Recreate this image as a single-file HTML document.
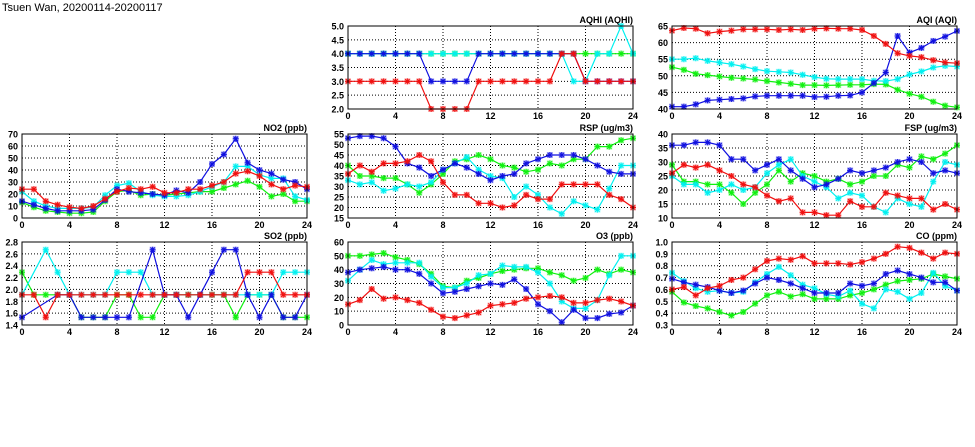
<!DOCTYPE html>
<html><head><meta charset="utf-8"><style>
html,body{margin:0;padding:0;background:#fff;width:975px;height:447px;overflow:hidden}
svg{display:block}
</style></head><body>
<svg id="s" width="975" height="447" xmlns="http://www.w3.org/2000/svg" font-family="Liberation Sans, sans-serif">
<text x="2" y="11" font-size="11" fill="#000">Tsuen Wan, 20200114-20200117</text>
</svg>
<script>
var C={b:'#1010e0',c:'#00f0f0',g:'#10f010',r:'#f01010'};
var P=[
{t:'AQHI (AQHI)',x:348,y:26,h:83,min:2,max:5,st:0.5,d:1,s:{
g:[4,4,4,4,4,4,4,4,4,4,4,4,4,4,4,4,4,4,4,4,4,4,4,4,4],
c:[4,4,4,4,4,4,4,4,4,4,4,4,4,4,4,4,4,4,4,3,3,4,4,5,4],
b:[4,4,4,4,4,4,4,3,3,3,3,4,4,4,4,4,4,4,4,4,3,3,3,3,3],
r:[3,3,3,3,3,3,3,2,2,2,2,3,3,3,3,3,3,3,4,4,3,3,3,3,3]}},
{t:'AQI (AQI)',x:672,y:26,h:83,min:40,max:65,st:5,d:0,s:{
g:[52.6,51.8,50.6,50.2,49.8,49.4,49.2,48.9,48.4,48,47.6,47.2,47.2,47.1,47.2,47.3,47.3,47.5,47.4,45.8,44.6,43.7,42.2,41,40.5],
c:[55,55,55.3,54.5,54,53.5,52.8,52,51.4,51.2,51,50.3,49.6,49.1,49,49,49,48.5,48.4,49,50.4,51.3,52.5,53,52.8],
b:[40.7,40.7,41.4,42.6,42.8,43,43.2,43.8,44,44,44,44,43.6,43.7,44,44.1,45,47.8,51,62,57,58.4,60.5,61.8,63.5],
r:[63.6,64.4,64.2,62.8,63.3,63.6,64,64,64,63.8,64,63.8,64.2,64.3,64.2,64.2,63.8,62,59.6,56.8,56,55.6,54.7,54,53.8]}},
{t:'NO2 (ppb)',x:22,y:134,h:84,min:0,max:70,st:10,d:0,s:{
g:[13,9,6,5,4,4,5,14,22,23,19,20,19,20,21,22,22,25,28,31,26,18,20,14,14],
c:[22,14,10,8,8,8,9,19,27,29,22,19,18,18,19,22,26,30,43,43,36,33,33,18,15],
b:[14,11,8,6,6,6,7,15,24,22,21,20,19,23,21,30,45,53,66,46,40,37,32,30,24],
r:[24,24,14,11,9,8,10,16,22,25,24,26,21,21,24,24,27,30,37,39,35,28,24,27,26]}},
{t:'RSP (ug/m3)',x:348,y:134,h:84,min:15,max:55,st:5,d:0,s:{
g:[40,35,35,34,34,31,27,31,36,42,43,45,43,40,39,37,38,41,40,43,43,49,49,52,53],
c:[33,31,32,28,29,31,30,32,38,41,44,38,35,34,25,30,26,20,17,23,21,19,29,40,40],
b:[53,54,54,53,49,41,39,35,38,41,39,36,33,35,36,41,43,45,45,45,43,40,37,36,36],
r:[36,40,37,41,41,42,45,42,32,26,26,22,22,20,21,26,24,24,31,31,31,31,26,24,20]}},
{t:'FSP (ug/m3)',x:672,y:134,h:84,min:10,max:40,st:5,d:0,s:{
g:[29,23,23,22,22,19,15,19,22,27,23,26,25,23,24,22,23,25,25,29,28,32,31,33,36],
c:[25,22,22,19,20,22,20,21,26,29,31,25,23,21,17,19,18,14,12,17,15,14,23,30,29],
b:[36,36,37,37,36,31,31,27,29,31,27,24,21,22,24,27,26,27,28,30,31,30,26,27,26],
r:[26,29,28,29,27,25,22,21,18,16,17,12,12,11,11,16,14,14,19,18,17,17,13,15,13]}},
{t:'SO2 (ppb)',x:22,y:242,h:83,min:1.4,max:2.8,st:0.2,d:1,s:{
g:[2.29,1.91,1.91,1.91,1.91,1.53,1.53,1.53,1.91,1.91,1.53,1.53,1.91,1.91,1.91,1.91,1.91,1.91,1.53,1.91,1.91,1.91,1.53,1.53,1.53],
c:[1.91,null,2.67,2.29,1.91,1.91,1.91,1.91,2.29,2.29,2.29,1.91,1.91,1.91,1.91,1.91,1.91,1.91,1.91,1.91,1.91,1.91,2.29,2.29,2.29],
b:[1.53,null,null,1.91,1.91,1.53,1.53,1.53,1.53,1.53,null,2.67,1.91,1.91,1.53,1.91,2.29,2.67,2.67,1.91,1.53,1.91,1.53,1.53,1.91],
r:[1.91,1.91,1.53,1.91,1.91,1.91,1.91,1.91,1.91,1.91,1.91,1.91,1.91,1.91,1.91,1.91,1.91,1.91,1.91,2.29,2.29,2.29,1.91,1.91,1.91]}},
{t:'O3 (ppb)',x:348,y:242,h:83,min:0,max:60,st:10,d:0,s:{
g:[50,50,51,52,49,47,44,37,28,27,32,34,37,39,40,41,41,38,36,32,34,40,37,40,38],
c:[32,40,47,44,45,45,45,35,27,27,30,36,37,43,42,42,38,30,17,12,12,18,36,50,50],
b:[38,40,41,42,40,40,37,30,23,24,26,28,30,29,33,26,15,10,2,11,5,5,8,9,14],
r:[15,18,26,19,20,18,16,11,6,5,7,9,14,15,16,19,20,21,20,16,16,18,19,17,14]}},
{t:'CO (ppm)',x:672,y:242,h:83,min:0.3,max:1.0,st:0.1,d:1,s:{
g:[.58,.49,.46,.44,.41,.38,.41,.48,.55,.58,.54,.56,.52,.52,.52,.55,.57,.60,.64,.67,.68,.69,.73,.71,.69],
c:[.74,.67,.61,.58,.59,.57,.58,.66,.73,.79,.72,.64,.61,.56,.54,.59,.48,.44,.60,.58,.52,.57,.74,.63,.59],
b:[.69,.66,.64,.62,.59,.57,.59,.65,.70,.68,.65,.61,.57,.57,.57,.65,.63,.65,.73,.76,.73,.70,.66,.66,.59],
r:[.60,.62,.55,.61,.63,.68,.70,.77,.84,.86,.85,.88,.82,.82,.82,.81,.83,.86,.90,.96,.95,.91,.86,.91,.90]}}
];
var W=285,o='';
P.forEach(function(p){
 var X=function(i){return p.x+i*W/24},Y=function(v){return p.y+p.h-(v-p.min)/(p.max-p.min)*p.h};
 o+='<text x="'+(p.x+W)+'" y="'+(p.y-3)+'" font-size="9" font-weight="bold" text-anchor="end">'+p.t+'</text>';
 var n=Math.round((p.max-p.min)/p.st);
 for(var k=0;k<=n;k++){var v=p.min+k*p.st,y=Y(v);
  if(k>0&&k<n)o+='<line x1="'+p.x+'" x2="'+(p.x+W)+'" y1="'+y+'" y2="'+y+'" stroke="#000" stroke-width="1" stroke-dasharray="1,2"/>';
  o+='<text x="'+(p.x-4)+'" y="'+(y+3.5)+'" font-size="9" font-weight="bold" text-anchor="end">'+v.toFixed(p.d)+'</text>';}
 for(var i=0;i<=24;i+=4){var x=X(i);
  if(i>0&&i<24)o+='<line x1="'+x+'" x2="'+x+'" y1="'+p.y+'" y2="'+(p.y+p.h)+'" stroke="#000" stroke-width="1" stroke-dasharray="1,2"/>';
  o+='<text x="'+x+'" y="'+(p.y+p.h+10)+'" font-size="9" font-weight="bold" text-anchor="middle">'+i+'</text>';}
 ['g','c','b','r'].forEach(function(k){var a=p.s[k],pts=[];
  a.forEach(function(v,i){if(v!=null)pts.push(X(i).toFixed(1)+','+Y(v).toFixed(1))});
  o+='<polyline points="'+pts.join(' ')+'" fill="none" stroke="'+C[k]+'" stroke-width="1.2"/>';
  a.forEach(function(v,i){if(v==null)return;var x=X(i),y=Y(v),r=3;
   o+='<rect x="'+(x-3)+'" y="'+(y-3)+'" width="6" height="6" fill="'+C[k]+'" opacity="0.35"/>';
   o+='<path d="M'+(x-r)+' '+y+'h'+2*r+'M'+x+' '+(y-r)+'v'+2*r+'M'+(x-2.2)+' '+(y-2.2)+'l4.4 4.4M'+(x-2.2)+' '+(y+2.2)+'l4.4 -4.4" stroke="'+C[k]+'" stroke-width="1"/>';});
 });
 o+='<rect x="'+p.x+'" y="'+p.y+'" width="'+W+'" height="'+p.h+'" fill="none" stroke="#000" stroke-width="1"/>';
});
document.getElementById('s').insertAdjacentHTML('beforeend',o);
</script>
</body></html>
